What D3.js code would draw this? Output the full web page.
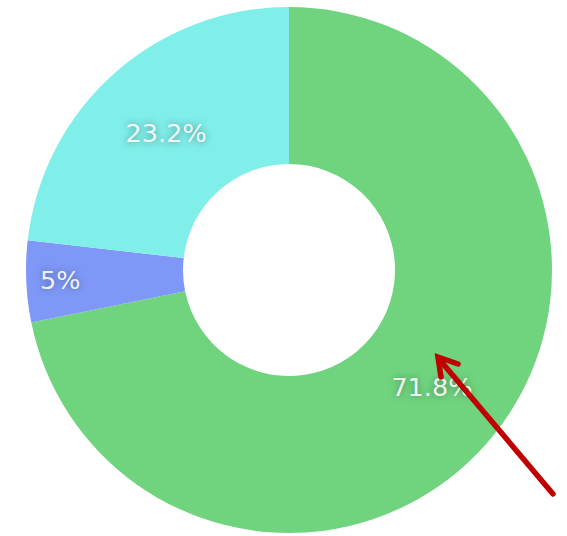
<!DOCTYPE html>
<html>
<head>
<meta charset="UTF-8" />
<script src="https://d3js.org/d3.v7.min.js"></script>
<style>
  body, html { margin: 0; padding: 0; background: #fff; }
  .label {
    font-family: "DejaVu Sans", Verdana, sans-serif;
    font-size: 25.5px;
    fill: #fff;
    fill-opacity: 0.9;
    text-shadow: 0 0 7px rgba(40,60,60,0.6);
  }
</style>
</head>
<body>
<div id="chart"></div>
<script>
  // slices, clockwise from 12 o'clock
  const names = ["A", "B", "C"];
  const values = [71.8, 5, 23.2];
  const labels = ["71.8%", "5%", "23.2%"];
  const colors = ["#70d47e", "#7f98f8", "#80eee9"];

  const width = 567, height = 536;
  const cx = 289, cy = 270;
  const outerR = 263, innerR = 106;

  const svg = d3.select("#chart").append("svg")
    .attr("width", width)
    .attr("height", height);

  const g = svg.append("g").attr("transform", `translate(${cx},${cy})`);

  const pie = d3.pie().sort(null).value(d => d);
  const arcs = pie(values);

  const arc = d3.arc().innerRadius(innerR).outerRadius(outerR);

  g.selectAll("path.slice")
    .data(arcs)
    .enter().append("path")
    .attr("class", "slice")
    .attr("d", arc)
    .attr("fill", (d, i) => colors[i]);

  // small slices get their text pushed out toward the rim
  const total = d3.sum(values);
  g.selectAll("text.label")
    .data(arcs)
    .enter().append("text")
    .attr("class", "label")
    .attr("text-anchor", "middle")
    .attr("dy", "0.36em")
    .attr("transform", d => {
      const small = d.value / total < 0.1;
      const r = small ? outerR - 34 : (innerR + outerR) / 2;
      const a = (d.startAngle + d.endAngle) / 2;
      return `translate(${Math.sin(a) * r},${-Math.cos(a) * r})`;
    })
    .text((d, i) => labels[i]);

  // red annotation arrow
  const arrow = svg.append("g")
    .attr("stroke", "#c00000")
    .attr("stroke-width", 5.5)
    .attr("stroke-linecap", "round")
    .attr("fill", "none");

  arrow.append("line")
    .attr("x1", 553).attr("y1", 494)
    .attr("x2", 439).attr("y2", 359);

  arrow.append("path")
    .attr("stroke-linejoin", "miter")
    .attr("d", "M458,364 L438,357 L441,377");
</script>
</body>
</html>
